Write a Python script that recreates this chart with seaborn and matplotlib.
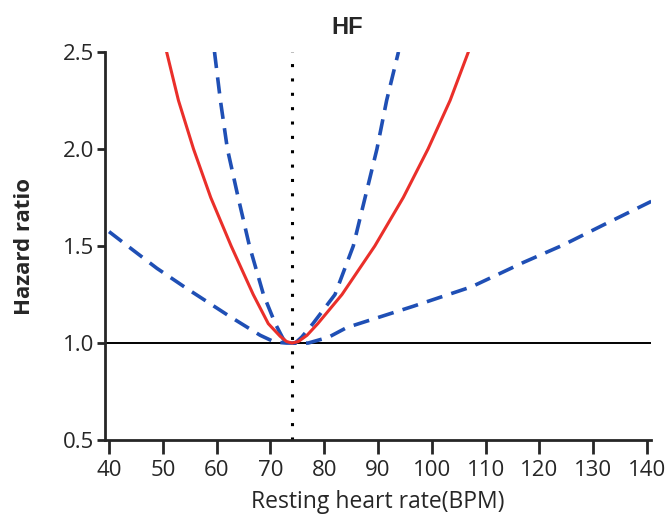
import pandas as pd
import matplotlib
matplotlib.use("Agg")
import matplotlib.pyplot as plt
import seaborn as sns

# values
hr_x = [50.7, 52.9, 55.7, 58.9, 62.7, 66.8, 69.6, 71.8, 73.0, 74.0,
        75.2, 76.8, 78.8, 83.3, 89.4, 94.7, 99.3, 103.4, 106.8]
hr_y = [2.50, 2.25, 2.00, 1.75, 1.50, 1.25, 1.10, 1.035, 1.008, 1.00,
        1.008, 1.04, 1.10, 1.25, 1.50, 1.75, 2.00, 2.25, 2.50]

upper_x = [59.6, 60.7, 62.0, 64.0, 66.1, 68.7, 70.9, 72.4, 73.6, 74.6,
           75.8, 77.9, 82.0, 85.4, 87.6, 89.8, 91.6, 93.8]
upper_y = [2.50, 2.25, 2.00, 1.75, 1.50, 1.25, 1.10, 1.02, 1.00, 1.00,
           1.03, 1.10, 1.25, 1.50, 1.75, 2.00, 2.25, 2.50]

lower_x = [40.0, 44.5, 48.9, 54.4, 62.5, 68.1, 70.8, 73.0, 75.0, 77.0,
           80.8, 84.2, 96.6, 107.4, 117.0, 124.4, 132.0, 140.8]
lower_y = [1.574, 1.478, 1.385, 1.282, 1.136, 1.04, 1.005, 1.00, 1.00, 1.00,
           1.03, 1.08, 1.19, 1.29, 1.415, 1.505, 1.61, 1.73]

ref_hr = 74
x_ticks = [40, 50, 60, 70, 80, 90, 100, 110, 120, 130, 140]
y_ticks = [0.5, 1.0, 1.5, 2.0, 2.5]

sns.set_style("ticks")
plt.rcParams["font.family"] = ["Open Sans", "DejaVu Sans"]

fig = plt.figure(figsize=(6.65, 5.19), dpi=100)
ax = fig.add_axes([0.158, 0.152, 0.821, 0.748])

red = "#ea2f2a"
blue = "#1f4fb5"

ax.axhline(1.0, color="black", lw=1.4, zorder=1)
ax.axvline(ref_hr, color="black", lw=2.2, linestyle=(0, (1, 3.7)), zorder=1)

sns.lineplot(x=lower_x, y=lower_y, color=blue, lw=2.6, ax=ax,
             linestyle=(0, (4.5, 2.6)))
sns.lineplot(x=upper_x, y=upper_y, color=blue, lw=2.6, ax=ax,
             linestyle=(0, (4.5, 2.6)))
sns.lineplot(x=hr_x, y=hr_y, color=red, lw=2.2, ax=ax)

ax.set_xlim(39.26, 140.75)
ax.set_ylim(0.5, 2.5)
ax.set_xticks(x_ticks)
ax.set_yticks(y_ticks)
ax.set_yticklabels([f"{v:.1f}" for v in y_ticks])

for s in ["top", "right"]:
    ax.spines[s].set_visible(False)
for s in ["left", "bottom"]:
    ax.spines[s].set_linewidth(2.0)
ax.tick_params(axis="x", direction="out", length=10, width=2.0, labelsize=16, pad=4)
ax.tick_params(axis="y", direction="out", length=6, width=2.0, labelsize=16, pad=2)

ax.set_xlabel("Resting heart rate(BPM)", fontsize=16.5, labelpad=7)
ax.set_ylabel("Hazard ratio", fontsize=16, fontweight="bold", labelpad=20)
ax.text(84.2, 2.625, "HF", fontsize=17, fontweight="bold", ha="center",
        va="center", clip_on=False, family=["Liberation Sans", "DejaVu Sans"])

fig.savefig("out.png", dpi=100, facecolor="white")
